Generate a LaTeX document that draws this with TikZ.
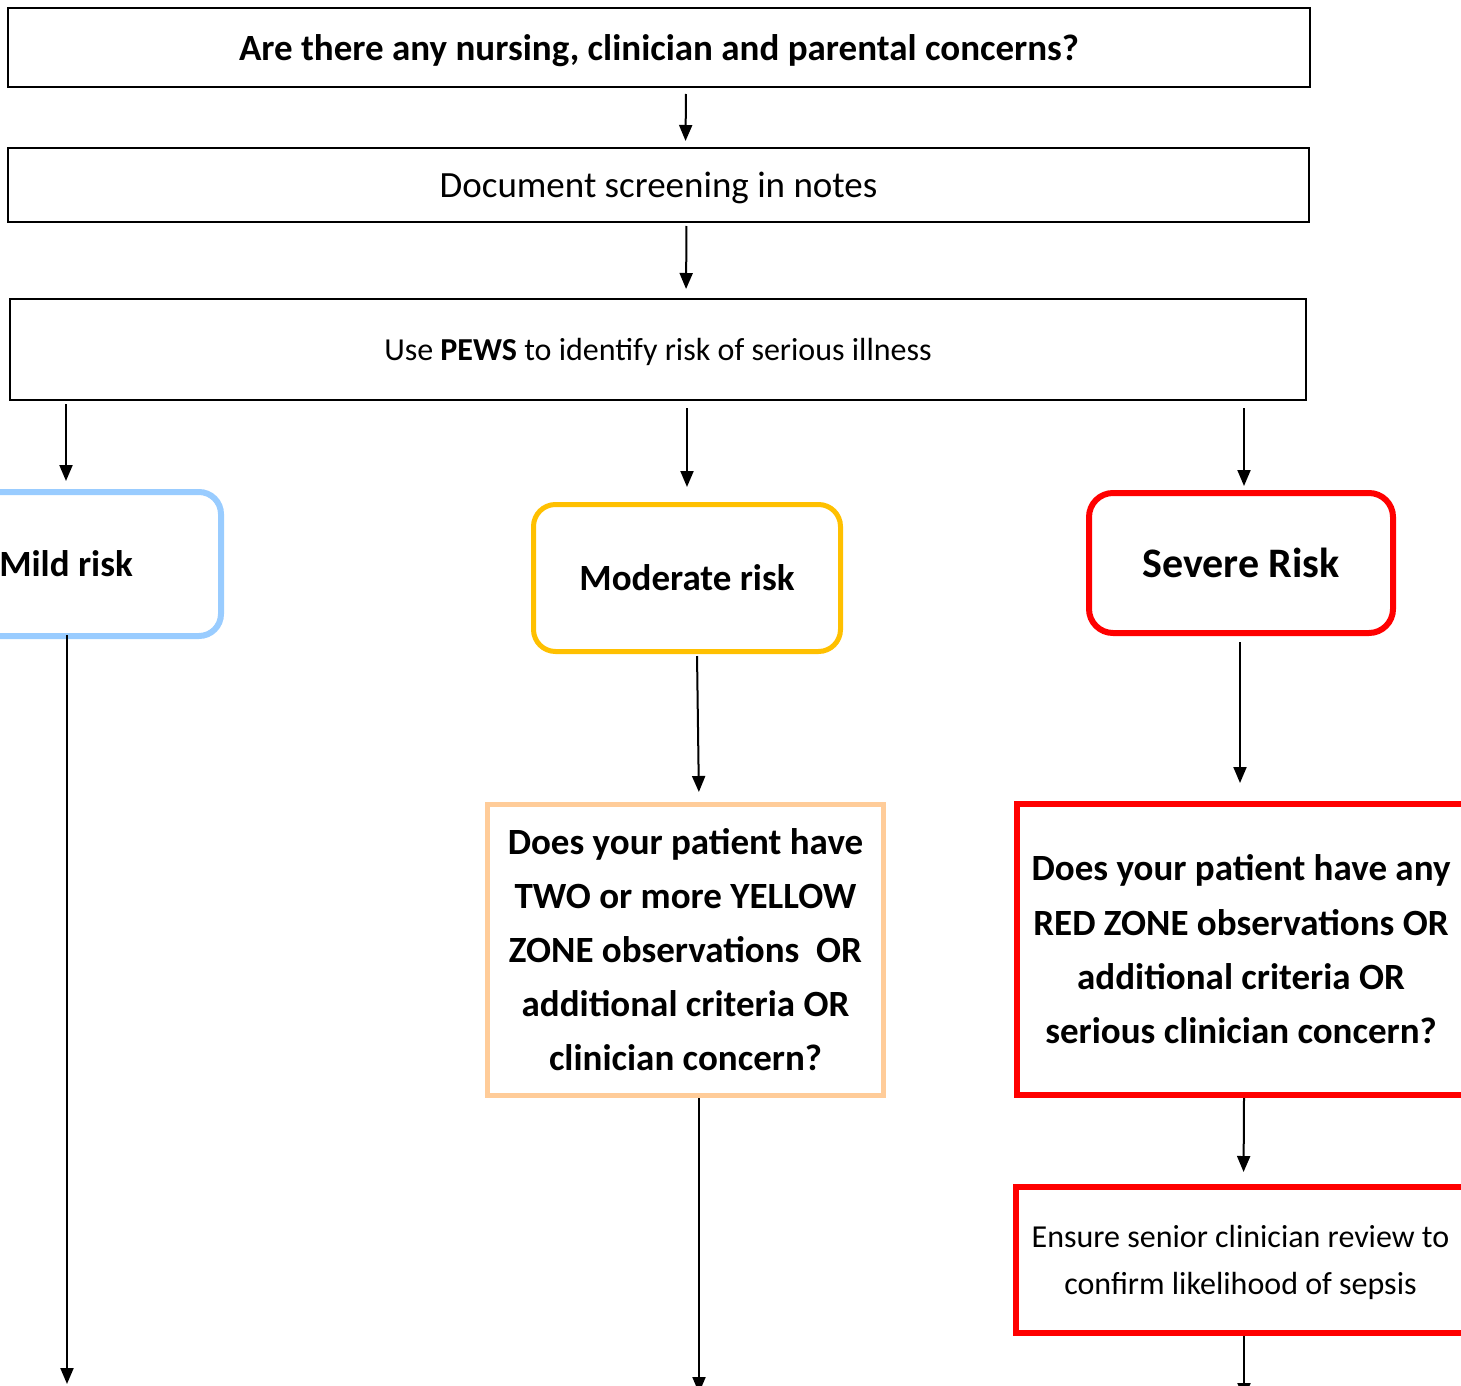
\documentclass[tikz,border=0pt]{standalone}
\usepackage{fontspec}
\setmainfont{Carlito}
\usetikzlibrary{arrows.meta,calc}
\definecolor{mildblue}{HTML}{99CCFF}
\definecolor{modorange}{HTML}{FFC000}
\definecolor{peach}{HTML}{FFCC99}
\definecolor{sevred}{HTML}{FF0000}
\tikzset{
  x=0.5pt, y=-0.5pt,
  plainbox/.style={draw=black, line width=1pt, rectangle, inner sep=0pt, align=center, text depth=0pt},
  riskbox/.style={rectangle, rounded corners=11pt, line width=3pt, inner sep=0pt, align=center, text depth=-2.5pt,
     font=\fontsize{18.5pt}{22pt}\selectfont\bfseries},
  qbox/.style={rectangle, line width=3pt, inner sep=0pt, align=center},
  arr/.style={line width=1pt, -{Triangle[width=6.5pt,length=8pt]}},
}
\begin{document}
\begin{tikzpicture}
\useasboundingbox (0,0) rectangle (1461,1386);
\clip (0,0) rectangle (1461,1386);

\node[plainbox, minimum width=651pt, minimum height=39.5pt,
  font=\fontsize{18.5pt}{22pt}\selectfont\bfseries] (b1) at (659,47.5)
  {Are there any nursing, clinician and parental concerns?};
\node[plainbox, text depth=-1.5pt, minimum width=650.5pt, minimum height=37pt,
  font=\fontsize{18.5pt}{22pt}\selectfont] (b2) at (658.5,185)
  {Document screening in notes};
\node[plainbox, text depth=-1.5pt, minimum width=648pt, minimum height=50.5pt,
  font=\fontsize{16pt}{20pt}\selectfont] (b3) at (658,349.5)
  {Use \textbf{PEWS} to identify risk of serious illness};

\node[riskbox, draw=mildblue, minimum width=155pt, minimum height=72pt] (mild) at (66,564) {Mild risk};
\node[riskbox, draw=modorange, line width=2.5pt, minimum width=153.5pt, minimum height=73.5pt] (mod) at (687,578) {Moderate risk};
\node[riskbox, draw=sevred, rounded corners=12pt, minimum width=152pt, minimum height=70pt,
  font=\fontsize{21pt}{25pt}\selectfont\bfseries] (sev) at (1241,563) {Severe Risk};

\node[qbox, draw=peach, line width=2.5pt, minimum width=198pt, minimum height=145.5pt,
  font=\fontsize{18.5pt}{27pt}\selectfont\bfseries] (mq) at (685.5,950)
  {Does your patient have\\TWO or more YELLOW\\ZONE observations~ OR\\additional criteria OR\\clinician concern?};
\node[qbox, draw=sevred, minimum width=224pt, minimum height=145.5pt,
  font=\fontsize{18.5pt}{27.2pt}\selectfont\bfseries] (sq) at (1241,949.5)
  {Does your patient have any\\RED ZONE observations OR\\additional criteria OR\\serious clinician concern?};
\node[qbox, draw=sevred, text depth=-2pt, minimum width=224.5pt, minimum height=73pt,
  font=\fontsize{16pt}{23.5pt}\selectfont] (sr) at (1240.5,1260)
  {Ensure senior clinician review to\\confirm likelihood of sepsis};

\coordinate (mildend) at (67,1384);
\coordinate (modend) at (699,1393);
\coordinate (sevend) at (1244,1399);

\draw[arr, shorten <=3pt, shorten >=3pt] ([xshift=13.5pt]b1.south) -- ([xshift=13.5pt]b2.north);
\draw[arr, shorten <=1.5pt, shorten >=4.5pt] ([xshift=14pt]b2.south) -- ([xshift=14pt]b3.north);
\draw[arr, shorten <=1.5pt, shorten >=4pt] (b3.south -| mild.north) -- (mild.north);
\draw[arr, shorten <=3.5pt, shorten >=7.5pt] (b3.south -| mod.north) -- (mod.north);
\draw[arr, shorten <=3.5pt, shorten >=2pt] ([xshift=1.5pt]b3.south -| sev.north) -- ([xshift=1.5pt]sev.north);

\draw[arr, shorten <=-2pt] ([xshift=0.5pt]mild.south) -- (mildend);
\draw[arr, shorten <=1pt, shorten >=5pt] ([xshift=5pt]mod.south) -- ([xshift=6.75pt]mq.north);
\draw[arr, shorten <=0pt] ([xshift=6.75pt]mq.south) -- (modend);
\draw[arr, shorten <=3pt, shorten >=9pt] ([xshift=-0.5pt]sev.south) -- ([xshift=-0.5pt]sq.north);
\draw[arr, shorten <=0pt, shorten >=6pt] ([xshift=1.5pt]sq.south) -- ([xshift=1.5pt]sr.north);
\draw[arr, shorten <=0pt] ([xshift=1.75pt]sr.south) -- (sevend);
\end{tikzpicture}
\end{document}
